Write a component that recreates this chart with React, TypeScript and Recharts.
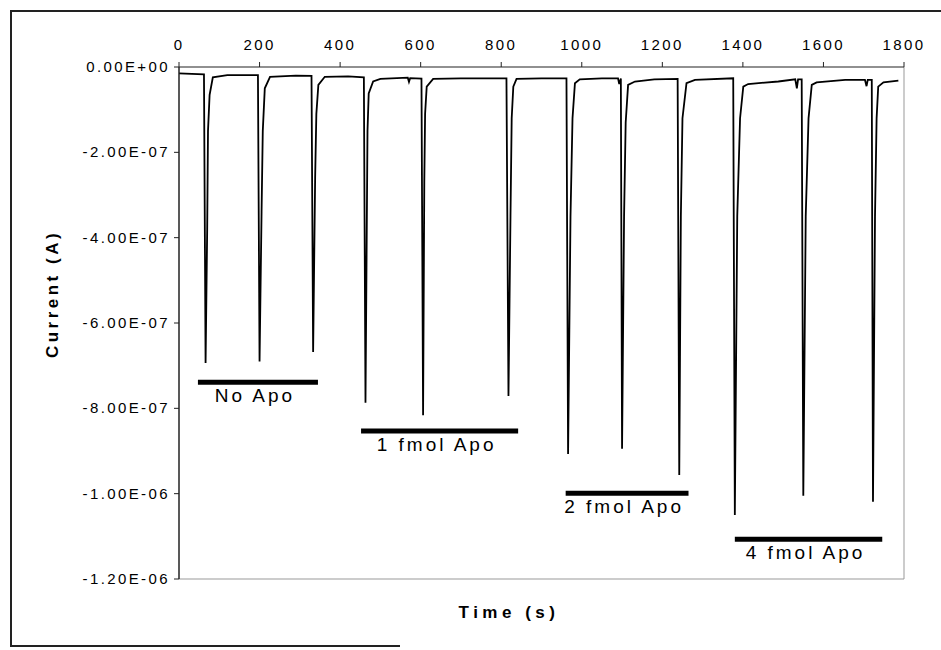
import React from 'react';
import { LineChart, Line, XAxis, YAxis, ReferenceLine } from 'recharts';

// time (s) and current (A), one pair of arrays per dosing group
const noApoTime = [0, 62, 66, 70, 72, 76, 84, 120, 196, 200, 205, 208, 213, 226, 290, 329, 333, 338, 341, 346, 362, 420];
const noApoCurrent = [-1.5e-8, -1.7e-8, -6.94e-7, -3.8e-7, -1.5e-7, -6.5e-8, -2.4e-8, -1.9e-8, -1.9e-8, -6.9e-7, -3.4e-7, -1.5e-7, -5e-8, -2.3e-8, -2e-8, -2.1e-8, -6.68e-7, -2.6e-7, -1.1e-7, -4.2e-8, -2.3e-8, -2.2e-8];

const fmol1Time = [459, 463, 466, 468, 471, 482, 500, 568, 571, 574, 602, 606, 609, 611, 615, 631, 700, 813, 818, 823, 826, 830, 838, 900];
const fmol1Current = [-2.4e-8, -7.87e-7, -4.05e-7, -1.5e-7, -6.2e-8, -3.4e-8, -2.8e-8, -2.5e-8, -3.5e-8, -2.6e-8, -2.7e-8, -8.16e-7, -2.7e-7, -1.1e-7, -4.6e-8, -2.8e-8, -2.65e-8, -2.65e-8, -7.71e-7, -3.5e-7, -1.2e-7, -4.6e-8, -2.8e-8, -2.65e-8];

const fmol2Time = [962, 966, 972, 977, 983, 995, 1050, 1090, 1093, 1097, 1100, 1105, 1109, 1115, 1132, 1180, 1238, 1242, 1246, 1250, 1260, 1281, 1376];
const fmol2Current = [-2.65e-8, -9.07e-7, -3.5e-7, -1.2e-7, -3.8e-8, -2.9e-8, -2.65e-8, -2.65e-8, -4e-8, -2.7e-8, -8.95e-7, -3.5e-7, -1.3e-7, -4.2e-8, -3.4e-8, -2.9e-8, -2.8e-8, -9.56e-7, -3.5e-7, -1.2e-7, -3.8e-8, -3e-8, -2.65e-8];

const fmol4Time = [1380, 1386, 1393, 1401, 1413, 1488, 1530, 1534, 1537, 1546, 1550, 1556, 1563, 1571, 1583, 1654, 1703, 1707, 1710, 1720, 1723, 1728, 1732, 1736, 1749, 1786];
const fmol4Current = [-1.05e-6, -3.5e-7, -1.2e-7, -4.6e-8, -4e-8, -3.4e-8, -2.9e-8, -5e-8, -2.9e-8, -2.9e-8, -1.005e-6, -3.5e-7, -1.2e-7, -4.2e-8, -3.6e-8, -3e-8, -3e-8, -4.5e-8, -3e-8, -3e-8, -1.019e-6, -3.5e-7, -1.2e-7, -4.6e-8, -3.6e-8, -3.2e-8];

// annotation bars: label, start time, end time, current level
const barLabels = ['No Apo', '1 fmol Apo', '2 fmol Apo', '4 fmol Apo'];
const barStart = [47, 452, 960, 1380];
const barEnd = [345, 842, 1265, 1746];
const barLevel = [-7.39e-7, -8.53e-7, -9.99e-7, -1.107e-6];

const xTicks = [0, 200, 400, 600, 800, 1000, 1200, 1400, 1600, 1800];
const yTicks = [0, -2e-7, -4e-7, -6e-7, -8e-7, -1e-6, -1.2e-6];

const toRows = (ts: number[], cs: number[]) => ts.map((t, k) => ({ t, i: cs[k] }));
const trace = [
  ...toRows(noApoTime, noApoCurrent),
  ...toRows(fmol1Time, fmol1Current),
  ...toRows(fmol2Time, fmol2Current),
  ...toRows(fmol4Time, fmol4Current),
];

const FONT = '"Liberation Sans", Arial, sans-serif';

const sci = (v: number) => {
  const [m, e] = v.toExponential(2).split('e');
  const n = parseInt(e, 10);
  return `${m}E${n < 0 ? '-' : '+'}${String(Math.abs(n)).padStart(2, '0')}`;
};

const XTick = (props: any) => {
  const { x, y, payload } = props;
  return (
    <text x={x} y={y} textAnchor="middle" fill="#000" fontSize={15} fontFamily={FONT} style={{ letterSpacing: '2.4px' }}>
      {payload.value}
    </text>
  );
};

const YTick = (props: any) => {
  const { x, y, payload } = props;
  return (
    <text x={x} y={y} dy={5} textAnchor="end" fill="#000" fontSize={15} fontFamily={FONT} style={{ letterSpacing: '2.4px' }}>
      {sci(payload.value)}
    </text>
  );
};

const barLabel = (text: string) => (props: any) => {
  const vb = props.viewBox;
  return (
    <text x={vb.x + vb.width / 2 - 3} y={vb.y + 20} textAnchor="middle" fill="#000" fontSize={19} fontFamily={FONT} style={{ letterSpacing: '3px' }}>
      {text}
    </text>
  );
};

const App: React.FC = () => {
  return (
    <div style={{ position: 'absolute', left: 0, top: 0, width: 941, height: 650, background: '#fff' }}>
      {/* scanned figure frame */}
      <div style={{ position: 'absolute', left: 10, top: 10, width: 931, height: 0, borderTop: '2px solid #222' }} />
      <div style={{ position: 'absolute', left: 10, top: 10, width: 0, height: 637, borderLeft: '2px solid #222' }} />
      <div style={{ position: 'absolute', left: 10, top: 645, width: 390, height: 0, borderTop: '2px solid #222' }} />
      <div style={{ position: 'absolute', left: 0, top: 0 }}>
        <LineChart width={941} height={650} data={trace} margin={{ top: 37, right: 37, bottom: 71, left: 0 }}>
          <XAxis
            dataKey="t"
            type="number"
            orientation="top"
            height={30}
            domain={[0, 1800]}
            ticks={xTicks}
            allowDataOverflow
            axisLine={{ stroke: '#222', strokeWidth: 1.2 }}
            tickLine={{ stroke: '#222' }}
            tickSize={5}
            tickMargin={12}
            tick={<XTick />}
            interval={0}
            label={{
              content: () => (
                <text x={509} y={618} textAnchor="middle" fill="#000" fontSize={17} fontWeight="bold" fontFamily={FONT} style={{ letterSpacing: '4.5px' }}>
                  Time (s)
                </text>
              ),
            }}
          />
          <YAxis
            type="number"
            width={179}
            domain={[-1.2e-6, 0]}
            ticks={yTicks}
            allowDataOverflow
            axisLine={{ stroke: '#222', strokeWidth: 1.5 }}
            tickLine={{ stroke: '#222' }}
            tickSize={5}
            tickMargin={4}
            tick={<YTick />}
            interval={0}
            label={{
              content: () => (
                <text x={58} y={294} textAnchor="middle" transform="rotate(-90 58 294)" fill="#000" fontSize={17} fontWeight="bold" fontFamily={FONT} style={{ letterSpacing: '3.5px' }}>
                  Current (A)
                </text>
              ),
            }}
          />
          <ReferenceLine x={1800} stroke="#999" strokeWidth={1} />
          <ReferenceLine y={-1.2e-6} stroke="#999" strokeWidth={1} />
          {barLabels.map((name, k) => (
            <ReferenceLine
              key={name}
              segment={[{ x: barStart[k], y: barLevel[k] }, { x: barEnd[k], y: barLevel[k] }]}
              stroke="#000"
              strokeWidth={5}
              label={{ content: barLabel(name) }}
            />
          ))}
          <Line
            dataKey="i"
            type="linear"
            stroke="#000"
            strokeWidth={1.8}
            dot={false}
            isAnimationActive={false}
          />
        </LineChart>
      </div>
    </div>
  );
};

export default App;
